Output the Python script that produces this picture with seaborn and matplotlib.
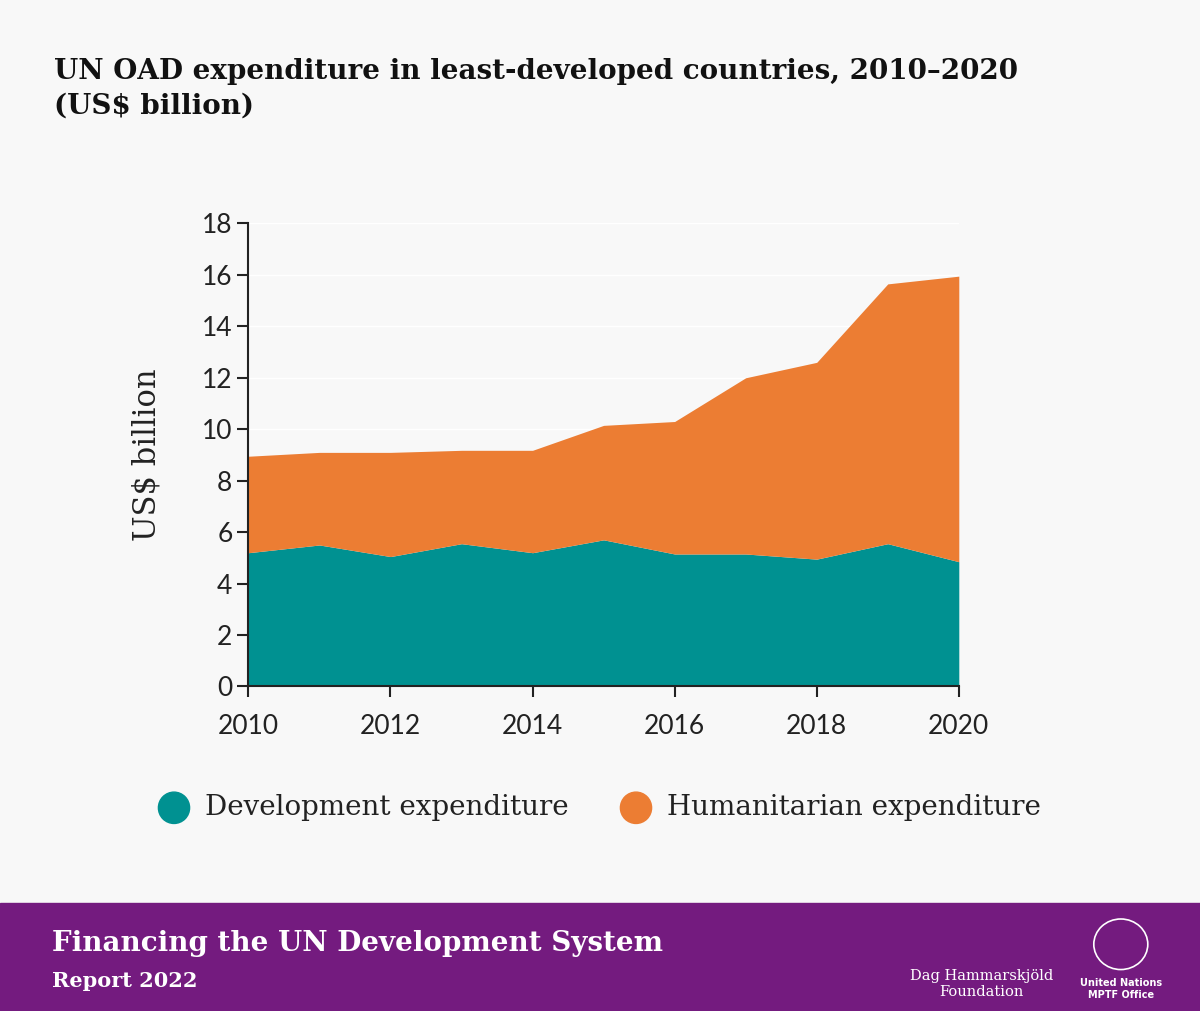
import matplotlib
matplotlib.use("Agg")
import matplotlib.pyplot as plt
import seaborn as sns
import numpy as np
from matplotlib.patches import Rectangle

years = [2010, 2011, 2012, 2013, 2014, 2015, 2016, 2017, 2018, 2019, 2020]
development = [5.2, 5.5, 5.05, 5.55, 5.2, 5.7, 5.15, 5.15, 4.95, 5.55, 4.85]
total = [8.95, 9.1, 9.1, 9.18, 9.18, 10.15, 10.3, 12.0, 12.6, 15.65, 15.95]
humanitarian = [t - d for t, d in zip(total, development)]
series_names = ["Development expenditure", "Humanitarian expenditure"]
colors = ["#009191", "#ec7d33"]

sns.set_theme(style="white")
plt.rcParams['font.family'] = ['DejaVu Sans']
bg = "#f8f8f8"
fig = plt.figure(figsize=(12, 10.11), dpi=100, facecolor=bg)
ax = fig.add_axes([0.207, 0.321, 0.592, 0.458], facecolor=bg)
ax.stackplot(years, development, humanitarian, colors=colors, linewidth=0)
ax.set_xlim(2010, 2020)
ax.set_ylim(0, 18)
ax.set_yticks(range(0, 19, 2))
ax.set_xticks(range(2010, 2021, 2))
ax.yaxis.grid(True, color="white", linewidth=1)
ax.set_axisbelow(True)
for s in ["top", "right"]:
    ax.spines[s].set_visible(False)
for s in ["left", "bottom"]:
    ax.spines[s].set_color("#222222")
    ax.spines[s].set_linewidth(1.5)
ax.tick_params(axis="both", direction="out", length=8, width=1.5, color="#222222",
               labelsize=19, labelcolor="#222222", bottom=True, left=True)
ax.tick_params(axis="x", pad=12)
for lab in ax.get_xticklabels() + ax.get_yticklabels():
    lab.set_family("Lato")
ax.set_ylabel("US$ billion", fontsize=22, family="DejaVu Serif", color="#222222", labelpad=28)

fig.text(0.045, 0.943, "UN OAD expenditure in least-developed countries, 2010–2020\n(US$ billion)",
         fontsize=20, fontweight="bold", family="DejaVu Serif", color="#111111", va="top", linespacing=1.4)

# legend
for x, name, c in [(0.145, series_names[0], colors[0]), (0.53, series_names[1], colors[1])]:
    fig.patches.append(matplotlib.patches.Ellipse((x, 0.201), 0.026, 0.031, color=c, transform=fig.transFigure))
    fig.text(x + 0.026, 0.201, name, fontsize=20, family="DejaVu Serif", color="#222222", va="center")

# footer
fig.patches.append(Rectangle((0, 0), 1, 0.107, color="#741b7f", transform=fig.transFigure))
fig.text(0.043, 0.067, "Financing the UN Development System", fontsize=20, family="DejaVu Serif",
         fontweight="bold", color="white", va="center")
fig.text(0.043, 0.03, "Report 2022", fontsize=15, family="DejaVu Serif", fontweight="bold",
         color="white", va="center")
fig.text(0.818, 0.027, "Dag Hammarskjöld\nFoundation", fontsize=10.5, family="DejaVu Serif",
         color="white", ha="center", va="center")
fig.text(0.934, 0.022, "United Nations\nMPTF Office", fontsize=7, fontweight="bold",
         color="white", ha="center", va="center")
fig.patches.append(matplotlib.patches.Ellipse((0.934, 0.066), 0.045, 0.05, fill=False, ec="white",
                                              lw=1.2, transform=fig.transFigure))

fig.savefig("out.png", dpi=100, facecolor=bg)
